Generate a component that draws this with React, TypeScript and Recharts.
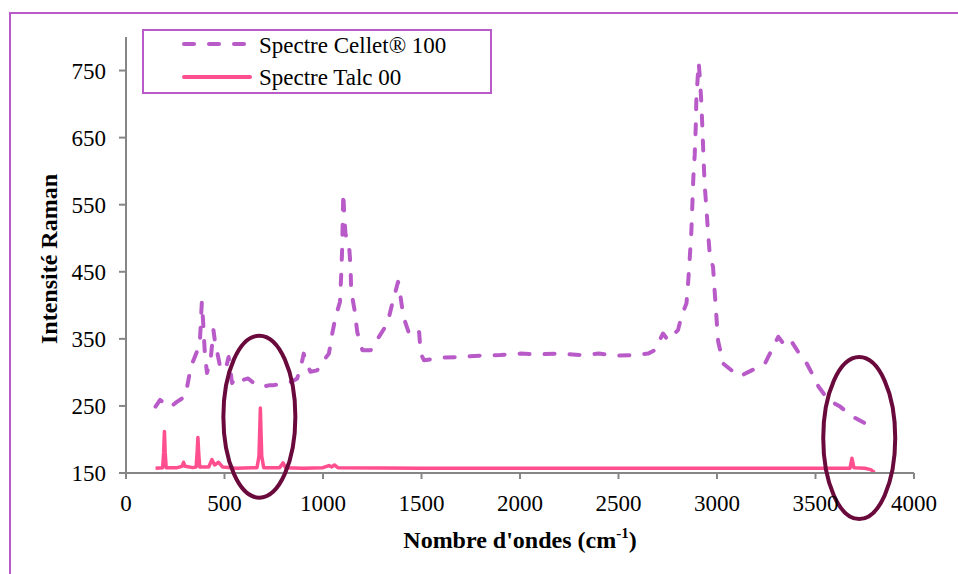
import { LineChart, Line, XAxis, YAxis, Legend, ReferenceDot } from 'recharts';

// Raman spectra (wavenumber in cm-1, intensity)
const celletWavenumbers = [
  150, 173, 224, 258, 300, 312, 329, 360, 375, 385, 392, 400, 411, 430, 444, 452, 461, 478, 495, 510,
  521, 538, 563, 597, 620, 648, 680, 699, 730, 750, 801, 840, 869, 895, 902, 911, 936, 970, 1004, 1030,
  1047, 1064, 1086, 1092, 1097, 1103, 1107, 1114, 1134, 1140, 1143, 1160, 1174, 1200, 1242, 1284, 1327,
  1352, 1372, 1381, 1394, 1408, 1437, 1470, 1488, 1496, 1513, 1600, 1700, 1800, 1900, 2000, 2100, 2200,
  2300, 2400, 2500, 2582, 2650, 2684, 2726, 2751, 2802, 2819, 2845, 2853, 2862, 2870, 2875, 2880, 2887,
  2892, 2895, 2904, 2907, 2914, 2921, 2929, 2937, 2946, 2954, 2963, 2980, 2989, 2997, 3006, 3032, 3074,
  3116, 3176, 3243, 3277, 3311, 3337, 3354, 3370, 3413, 3447, 3481, 3515, 3565, 3625, 3667, 3701, 3752,
  3800,
];
const celletIntensity = [
  249, 259, 248, 256, 264, 281, 308, 331, 345, 405, 373, 330, 299, 320, 363, 345, 333, 308, 303, 310,
  323, 284, 294, 289, 291, 284, 283, 279, 281, 281, 284, 286, 291, 318, 328, 318, 301, 303, 318, 328,
  358, 383, 405, 442, 482, 568, 540, 507, 482, 457, 422, 393, 360, 333, 333, 353, 373,
  403, 425, 435, 412, 383, 358, 365, 360, 328, 318, 322, 323, 325, 326, 328, 327, 328,
  326, 328, 325, 326, 328, 333, 358, 348, 363, 383, 403, 432, 472, 511, 551, 591, 625,
  665, 705, 749, 762, 735, 700, 640, 581, 546, 511, 477, 457, 417, 383, 346, 313, 303,
  294, 303, 313, 333, 353, 343, 346, 350, 330, 318, 299, 279, 259, 249, 239, 232, 224,
  214,
];

const talcWavenumbers = [
  150, 186, 191, 195, 199, 204, 260, 285, 292, 300, 340, 356, 361, 365, 369, 374, 420, 436, 450, 470,
  490, 560, 640, 665, 675, 679, 682, 685, 689, 699, 780, 797, 810, 900, 1000, 1030, 1045, 1058, 1075,
  1500, 2000, 2500, 3000, 3500, 3675, 3685, 3695, 3750, 3780, 3800,
];
const talcIntensity = [
  157, 158, 180, 212, 180, 158, 158, 160, 166, 160, 158, 159, 180, 203, 180, 159, 159, 170, 162, 166,
  159, 157, 158, 158, 175, 215, 247, 215, 175, 158, 158, 165, 158, 157, 158, 161, 159, 162, 158,
  157, 157, 157, 157, 157, 157, 172, 158, 157, 155, 151,
];

const xTicks = [0, 500, 1000, 1500, 2000, 2500, 3000, 3500, 4000];
const yTicks = [150, 250, 350, 450, 550, 650, 750];

// centres of the hand-drawn ellipses, in data units
const circledRegions = [
  { x: 677, y: 234 },
  { x: 3722, y: 202 },
];

const celletData = celletWavenumbers.map((x, i) => ({ x, y: celletIntensity[i] }));
const talcData = talcWavenumbers.map((x, i) => ({ x, y: talcIntensity[i] }));

const serif = "'Liberation Serif', 'Times New Roman', serif";
const purple = '#b85bc8';
const pink = '#ff4f8f';
const maroon = '#6a0a3c';
const axisGrey = '#868686';

const YTitle = (props: any) => {
  const vb = props.viewBox || { x: 0, y: 37, width: 126, height: 436 };
  const cy = vb.y + vb.height / 2 + 4;
  return (
    <text
      x={57}
      y={cy}
      transform={`rotate(-90, 57, ${cy})`}
      textAnchor="middle"
      fontFamily={serif}
      fontWeight="bold"
      fontSize={24}
      fill="#000"
    >
      Intensité Raman
    </text>
  );
};

const XTitle = (props: any) => {
  const vb = props.viewBox || { x: 126, y: 473, width: 788, height: 60 };
  const cx = vb.x + vb.width / 2;
  return (
    <text x={cx} y={548} textAnchor="middle" fontFamily={serif} fontWeight="bold" fontSize={24} fill="#000">
      Nombre d'ondes (cm
      <tspan fontSize={15} dy={-10}>-1</tspan>
      <tspan dy={10}>)</tspan>
    </text>
  );
};

const LegendBox = () => (
  <div
    style={{
      width: 346,
      height: 61,
      border: `2px solid ${purple}`,
      background: '#fff',
    }}
  >
    <svg width={346} height={61} style={{ display: 'block' }}>
      <line x1={40} y1={13} x2={106} y2={13} stroke={purple} strokeWidth={4} strokeDasharray="10 15" strokeLinecap="round" />
      <text x={115} y={22} fontFamily={serif} fontSize={23} fill="#000">
        Spectre Cellet® 100
      </text>
      <line x1={40} y1={46} x2={106} y2={46} stroke={pink} strokeWidth={4} strokeLinecap="round" />
      <text x={115} y={54} fontFamily={serif} fontSize={23} fill="#000">
        Spectre Talc 00
      </text>
    </svg>
  </div>
);

const ellipseShape = (props: any) => (
  <ellipse cx={props.cx} cy={props.cy} rx={36} ry={81} fill="none" stroke={maroon} strokeWidth={4} />
);

export default function App() {
  return (
    <div
      style={{
        position: 'fixed',
        left: 0,
        top: 0,
        width: 958,
        height: 574,
        overflow: 'hidden',
        background: '#fff',
      }}
    >
      <div
        style={{
          position: 'absolute',
          left: 9,
          top: 12,
          width: 1000,
          height: 700,
          border: `2px solid ${purple}`,
        }}
      />
      <div style={{ position: 'absolute', left: 0, top: 0 }}>
        <LineChart width={958} height={574} margin={{ top: 37, right: 44, bottom: 41, left: 0 }}>
          <XAxis
            dataKey="x"
            type="number"
            domain={[0, 4000]}
            ticks={xTicks}
            interval={0}
            height={60}
            axisLine={{ stroke: axisGrey, strokeWidth: 2 }}
            tickLine={{ stroke: axisGrey, strokeWidth: 2 }}
            tickSize={6}
            tickMargin={16}
            tick={{ fill: '#000', fontSize: 23, fontFamily: serif }}
            label={{ content: XTitle }}
          />
          <YAxis
            type="number"
            domain={[150, 800]}
            ticks={yTicks}
            interval={0}
            width={126}
            allowDataOverflow
            axisLine={{ stroke: axisGrey, strokeWidth: 2 }}
            tickLine={{ stroke: axisGrey, strokeWidth: 2 }}
            tickSize={7}
            tickMargin={13}
            tick={{ fill: '#000', fontSize: 23, fontFamily: serif }}
            label={{ content: YTitle }}
          />
          <Line
            data={celletData}
            dataKey="y"
            name="Spectre Cellet® 100"
            stroke={purple}
            strokeWidth={4}
            strokeDasharray="10 15"
            strokeLinecap="round"
            strokeLinejoin="round"
            dot={false}
            activeDot={false}
            isAnimationActive={false}
          />
          <Line
            data={talcData}
            dataKey="y"
            name="Spectre Talc 00"
            stroke={pink}
            strokeWidth={3.5}
            strokeLinejoin="round"
            dot={false}
            activeDot={false}
            isAnimationActive={false}
          />
          {circledRegions.map((c) => (
            <ReferenceDot key={c.x} x={c.x} y={c.y} r={10} shape={ellipseShape} />
          ))}
          <Legend
            layout="horizontal"
            verticalAlign="middle"
            align="center"
            content={LegendBox}
            wrapperStyle={{ left: 142, top: 29, width: 350, height: 65 }}
          />
        </LineChart>
      </div>
    </div>
  );
}
